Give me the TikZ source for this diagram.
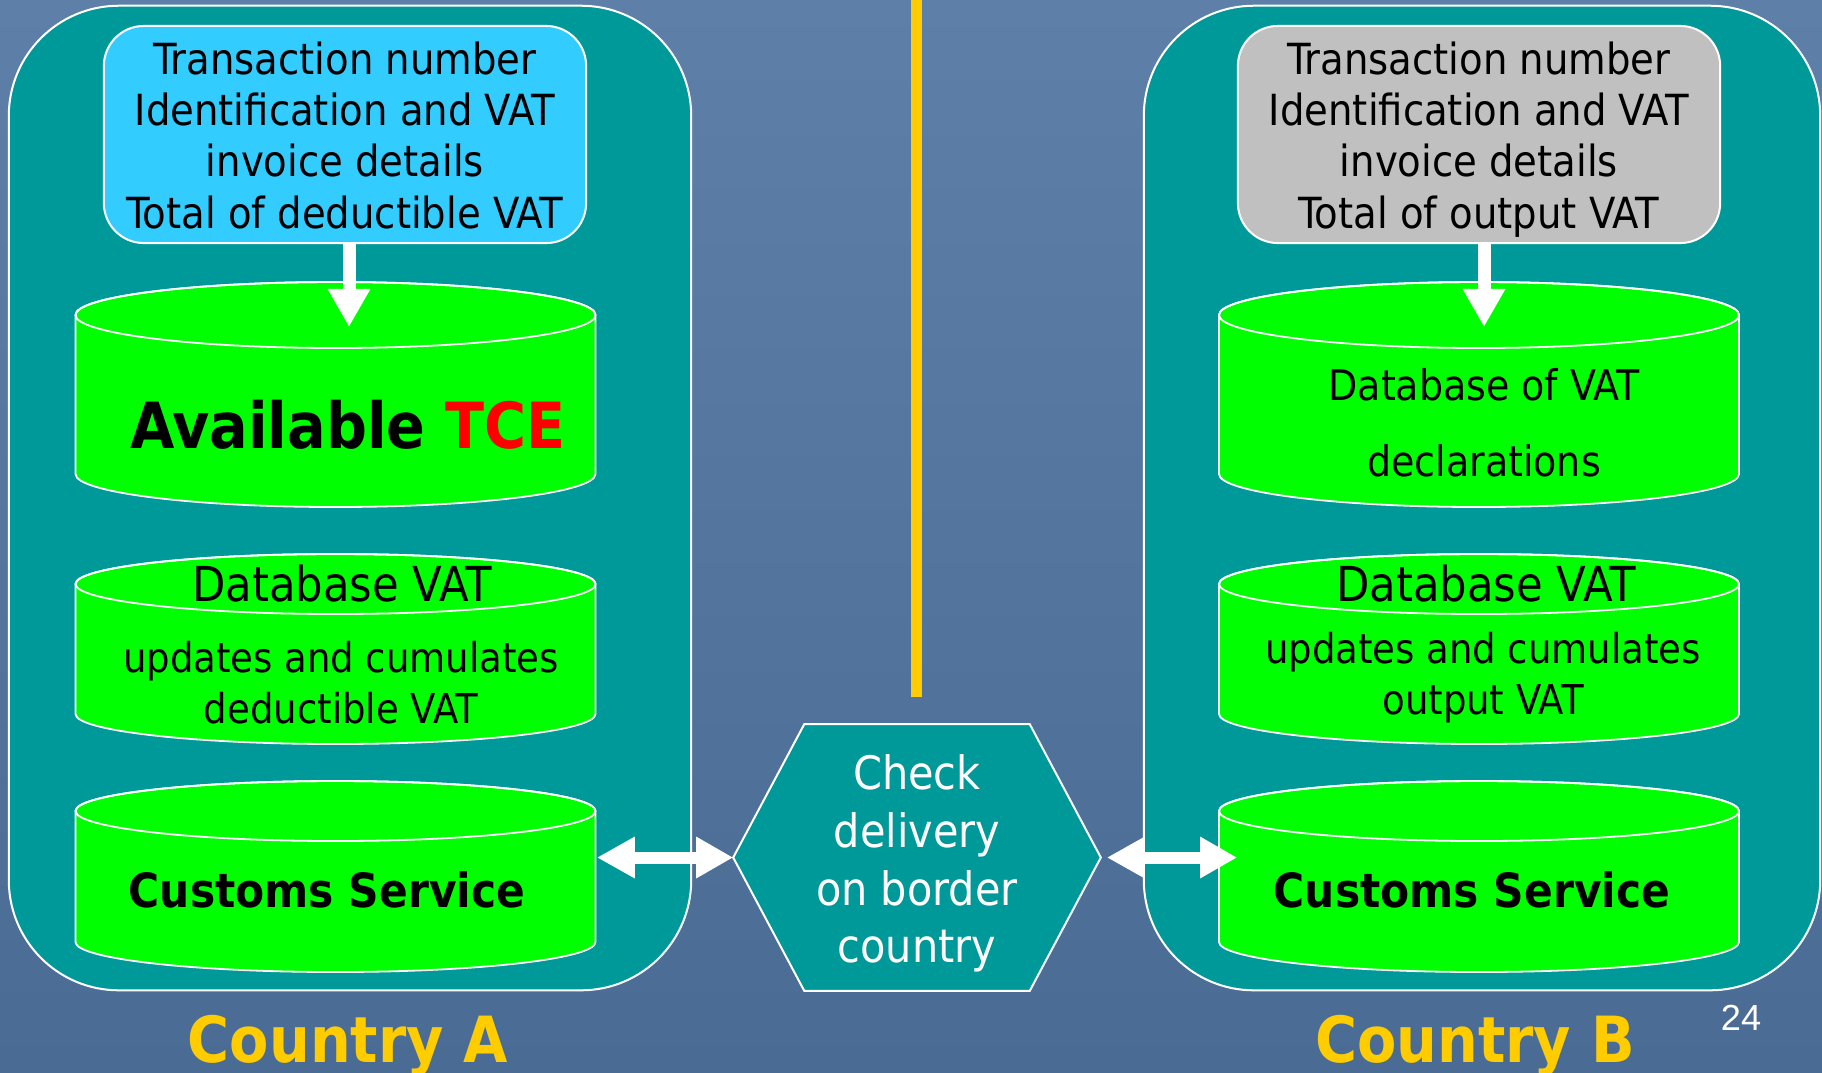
\documentclass[tikz,border=0pt]{standalone}
\usepackage{fontspec}
\setmainfont{DejaVu Sans Condensed}
\newfontfamily\numfont{Liberation Sans}
\usetikzlibrary{arrows.meta}
\definecolor{bgtop}{RGB}{94,128,168}
\definecolor{bgbot}{RGB}{74,108,148}
\definecolor{panelteal}{RGB}{0,153,153}
\definecolor{boxblue}{RGB}{51,204,255}
\definecolor{boxgray}{RGB}{192,192,192}
\definecolor{dbgreen}{RGB}{0,255,0}
\definecolor{goldline}{RGB}{255,204,0}
\definecolor{tcered}{RGB}{255,0,0}
\newcommand{\dbcyl}[4]{% cx, y top ellipse centre, y bottom ellipse centre, ry
  \path[dbshape] (#1-260,-#2) -- (#1-260,-#3)
    arc[start angle=180,end angle=360,x radius=260,y radius=#4]
    -- (#1+260,-#2)
    arc[start angle=0,end angle=180,x radius=260,y radius=#4] -- cycle;
  \draw[white,line width=0.018cm] (#1,-#2) ellipse[x radius=260,y radius=#4];
}
\newcommand{\toprule}{\rule{0pt}{0.43cm}}
\newcommand{\botrule}{\rule[-0.1cm]{0pt}{0pt}}
\tikzset{
  panel/.style={fill=panelteal,draw=white,line width=0.02cm,rounded corners=1.1cm,
    minimum height=9.84cm,inner sep=0},
  infobox/.style={draw=white,line width=0.02cm,rounded corners=0.4cm,
    minimum width=4.82cm,minimum height=2.17cm,inner sep=0,align=center,
    font=\fontsize{12.2pt}{14.6pt}\selectfont},
  dbshape/.style={fill=dbgreen,draw=white,line width=0.018cm},
  dbtitle/.style={inner sep=0,minimum width=5.2cm,anchor=base,
    font=\fontsize{13.7pt}{16pt}\selectfont},
  dbtext/.style={inner sep=0,minimum width=5.2cm,align=center,
    font=\fontsize{11.7pt}{14.5pt}\selectfont},
  dbbold/.style={inner sep=0,minimum width=5.2cm,anchor=base,font=\bfseries},
  hextext/.style={inner sep=0,minimum width=3.66cm,minimum height=2.65cm,align=center,
    text=white,font=\fontsize{13.1pt}{16.4pt}\selectfont},
  countrylabel/.style={inner sep=0,anchor=base,text=goldline,
    font=\fontsize{18.1pt}{22pt}\selectfont\bfseries},
  downarrow/.style={draw=white,line width=0.13cm,-{Triangle[length=0.38cm,width=0.40cm]}},
  dblarrow/.style={draw=white,line width=0.12cm,
    {Triangle[length=0.38cm,width=0.39cm]}-{Triangle[length=0.37cm,width=0.39cm]}},
}
\begin{document}
\begin{tikzpicture}[x=0.01cm,y=0.01cm]
\useasboundingbox (0,0) rectangle (1822,-1072);
\shade[top color=bgtop,bottom color=bgbot] (0,0) rectangle (1822,-1072);

% border line
\draw[goldline,line width=0.11cm] (916,0) -- (916,-697);

% panels
\node[panel,minimum width=6.82cm] (panelA) at (350,-498) {};
\node[panel,minimum width=6.76cm] (panelB) at (1482,-498) {};

% info boxes
\node[infobox,fill=boxblue] (boxA) at (345,-134.5)
  {\toprule Transaction number\\Identification and VAT\\invoice details\\Total of deductible VAT\botrule};
\node[infobox,fill=boxgray] (boxB) at (1479,-134.5)
  {\toprule Transaction number\\Identification and VAT\\invoice details\\Total of output VAT\botrule};

% cylinders country A
\dbcyl{335.5}{315}{474}{33}
\dbcyl{335.5}{584}{714}{30}
\dbcyl{335.5}{811}{942}{30}
% cylinders country B
\dbcyl{1479}{315}{474}{33}
\dbcyl{1479}{584}{714}{30}
\dbcyl{1479}{811}{942}{30}

% cylinder texts
\node[dbbold,font=\fontsize{18.1pt}{22pt}\selectfont\bfseries] (tceA) at (348,-448)
  {Available \textcolor{tcered}{TCE}};
\node[dbtitle] (dbA) at (342,-601) {Database VAT};
\node[dbtext] (dbAsub) at (341,-683) {updates and cumulates\\deductible VAT};
\node[dbbold,font=\fontsize{13.4pt}{16pt}\selectfont\bfseries] (custA) at (327,-907)
  {Customs Service};
\node[dbtext,font=\fontsize{12pt}{21.5pt}\selectfont] (declB) at (1484,-423)
  {Database of VAT\\declarations};
\node[dbtitle] (dbB) at (1486,-601) {Database VAT};
\node[dbtext] (dbBsub) at (1483,-677.3) {updates and cumulates\\output VAT};
\node[dbbold,font=\fontsize{13.4pt}{16pt}\selectfont\bfseries] (custB) at (1472,-907)
  {Customs Service};

% hexagon
\node[hextext] (hex) at (917,-857.5) {};
\draw[fill=panelteal,draw=white,line width=0.02cm]
  (hex.west) -- ([xshift=0.71cm]hex.north west) -- ([xshift=-0.71cm]hex.north east)
  -- (hex.east) -- ([xshift=-0.71cm]hex.south east) -- ([xshift=0.71cm]hex.south west) -- cycle;
\node[hextext] (hexlabel) at (917,-863.5) {Check\\delivery\\on border\\country};

% arrows
\coordinate (tipA) at (349,-327);
\coordinate (tipB) at (1484,-327);
\draw[downarrow] (boxA.south -| tipA) -- (tipA);
\draw[downarrow] (boxB.south -| tipB) -- (tipB);
\draw[dblarrow,shorten <=0.09cm] (custA.east |- hex.west) -- (hex.west);
\draw[dblarrow,shorten <=0.06cm,shorten >=-0.26cm] (hex.east) -- (custB.west |- hex.east);

% labels
\node[countrylabel] (countryA) at (348,-1062) {Country A};
\node[countrylabel] (countryB) at (1475,-1062) {Country B};
\node[inner sep=0,anchor=base,text=white,font=\numfont\fontsize{10.3pt}{12pt}\selectfont]
  (pageno) at (1741,-1030) {24};
\end{tikzpicture}
\end{document}
